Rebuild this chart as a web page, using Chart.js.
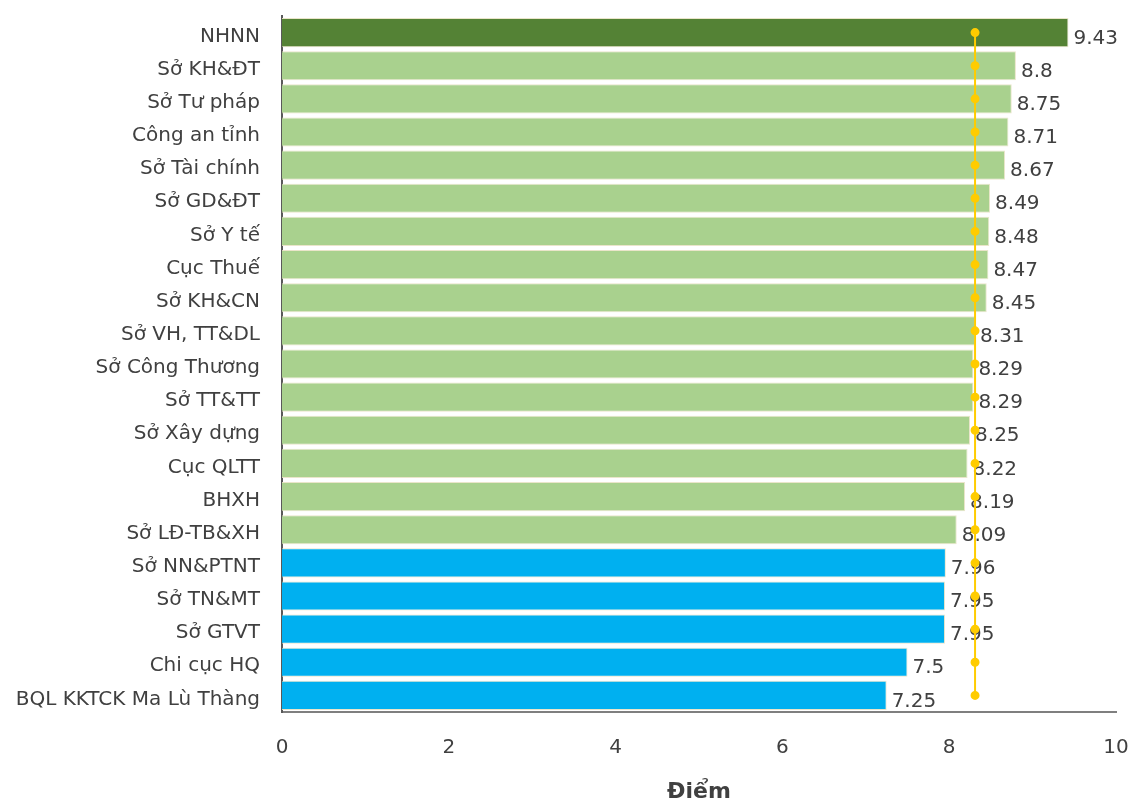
<!DOCTYPE html>
<html>
<head>
<meta charset="utf-8">
<script src="https://cdn.jsdelivr.net/npm/chart.js@4.4.1/dist/chart.umd.min.js"></script>
<style>
  html, body { margin: 0; padding: 0; background: #fff; overflow: hidden; }
  #wrap { position: relative; width: 1130px; height: 805px; }
</style>
</head>
<body>
<div id="wrap"><canvas id="myChart"></canvas></div>
<script>
const labels = ["NHNN", "Sở KH&ĐT", "Sở Tư pháp", "Công an tỉnh", "Sở Tài chính", "Sở GD&ĐT", "Sở Y tế",
  "Cục Thuế", "Sở KH&CN", "Sở VH, TT&DL", "Sở Công Thương", "Sở TT&TT", "Sở Xây dựng", "Cục QLTT",
  "BHXH", "Sở LĐ-TB&XH", "Sở NN&PTNT", "Sở TN&MT", "Sở GTVT", "Chi cục HQ", "BQL KKTCK Ma Lù Thàng"]
const scores = [9.43, 8.8, 8.75, 8.71, 8.67, 8.49, 8.48, 8.47, 8.45, 8.31, 8.29, 8.29, 8.25, 8.22,
  8.19, 8.09, 7.96, 7.95, 7.95, 7.5, 7.25]
const average = [8.31, 8.31, 8.31, 8.31, 8.31, 8.31, 8.31, 8.31, 8.31, 8.31, 8.31, 8.31, 8.31, 8.31,
  8.31, 8.31, 8.31, 8.31, 8.31, 8.31, 8.31]
const xTicks = [0, 2, 4, 6, 8, 10]

const textColor = '#404040'
const barColor = (v) => v >= 9 ? '#548235' : (v >= 8 ? '#a9d18e' : '#00b0f0')

// score written just right of each bar end
const valueLabels = {
  id: 'valueLabels',
  afterDatasetDraw(chart, args) {
    if (args.index !== 0) return
    const ctx = chart.ctx
    ctx.save()
    ctx.font = '20px "DejaVu Sans"'
    ctx.fillStyle = textColor
    ctx.textAlign = 'left'
    ctx.textBaseline = 'middle'
    args.meta.data.forEach((bar, i) => {
      ctx.fillText(String(scores[i]), bar.x + 5, bar.y + 6)
    })
    ctx.restore()
  }
}

const ctx = document.getElementById('myChart').getContext('2d')

const myChart = new Chart(ctx, {
  data: {
    labels: labels,
    datasets: [{
      type: 'bar',
      data: scores,
      order: 1,
      backgroundColor: scores.map(barColor),
      borderColor: 'rgba(232, 226, 196, 0.9)',
      borderWidth: 1,
      categoryPercentage: 0.88,
      barPercentage: 1
    }, {
      type: 'line',
      data: average,
      order: 0,
      borderColor: '#ffcc00',
      backgroundColor: '#ffcc00',
      borderWidth: 2,
      pointRadius: 3.5,
      pointHoverRadius: 3.5
    }]
  },
  options: {
    indexAxis: 'y',
    responsive: true,
    maintainAspectRatio: false,
    animation: false,
    layout: { padding: { top: 16, right: 14, bottom: 0, left: 0 } },
    plugins: {
      legend: { display: false },
      tooltip: { enabled: false }
    },
    scales: {
      x: {
        min: 0,
        max: 10,
        afterBuildTicks: (scale) => { scale.ticks = xTicks.map(v => ({ value: v })) },
        afterFit: (scale) => {
          scale.height = 93
          scale.paddingLeft = 0
          scale.paddingRight = 0
        },
        grid: { display: false, drawTicks: false },
        border: { display: true, color: '#7f7f7f', width: 2 },
        ticks: {
          padding: 24,
          color: textColor,
          font: { family: 'DejaVu Sans', size: 20 }
        },
        title: {
          display: true,
          text: 'Điểm',
          color: textColor,
          padding: 0,
          font: { family: 'DejaVu Sans', size: 22, weight: 'bold' }
        }
      },
      y: {
        afterFit: (scale) => {
          scale.width = 282
          scale.paddingTop = 0
          scale.paddingBottom = 0
        },
        grid: { display: false, drawTicks: false },
        border: { display: true, color: '#595959', width: 2 },
        ticks: {
          padding: 22,
          labelOffset: 4,
          color: textColor,
          font: { family: 'DejaVu Sans', size: 20 }
        }
      }
    }
  },
  plugins: [valueLabels]
})
</script>
</body>
</html>
